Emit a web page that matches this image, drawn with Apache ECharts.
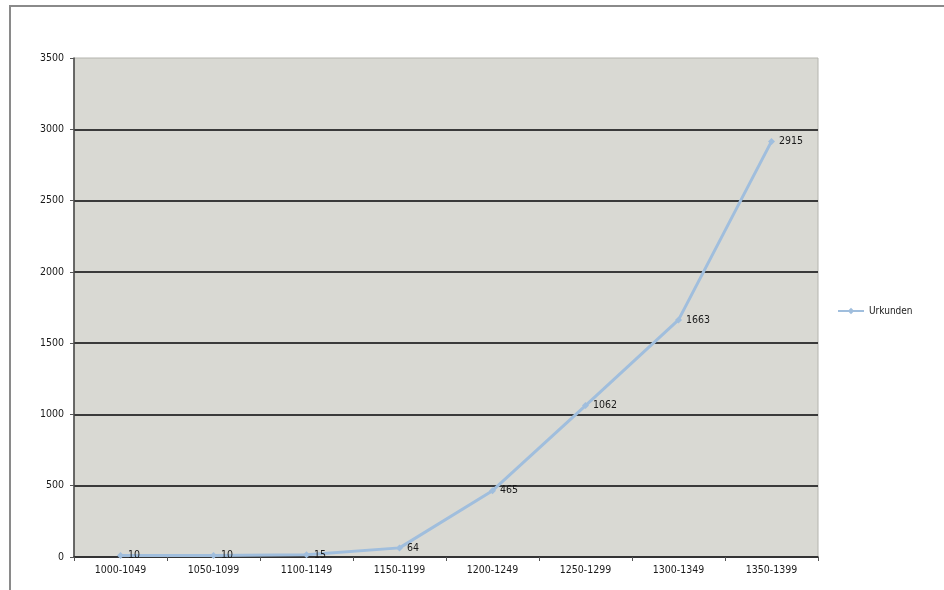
<!DOCTYPE html>
<html>
<head>
<meta charset="utf-8">
<title>Urkunden</title>
<script src="https://cdn.jsdelivr.net/npm/echarts@6/dist/echarts.min.js"></script>
<style>
  html, body { margin: 0; padding: 0; background: #ffffff; }
  #chart { width: 944px; height: 590px; }
</style>
</head>
<body>
<div id="chart"></div>
<script>
// Half-century periods and the number of charters (Urkunden) per period
const periods = ['1000-1049', '1050-1099', '1100-1149', '1150-1199', '1200-1249', '1250-1299', '1300-1349', '1350-1399'];
const urkunden = [10, 10, 15, 64, 465, 1062, 1663, 2915];
const seriesName = 'Urkunden';
const yMin = 0;
const yMax = 3500;
const yStep = 500;

const labelFont = '"DejaVu Sans Condensed", "DejaVu Sans", Verdana, sans-serif';

const chart = echarts.init(document.getElementById('chart'), null, { renderer: 'canvas' });

chart.setOption({
  backgroundColor: '#ffffff',
  animation: false,
  graphic: [
    {
      type: 'rect',
      shape: { x: 10, y: 6, width: 960, height: 600 },
      style: { fill: 'none', stroke: '#8a8a8a', lineWidth: 2 },
      silent: true,
      z: 100
    }
  ],
  legend: {
    left: 832,
    top: 301,
    itemWidth: 26,
    itemHeight: 8,
    itemGap: 4,
    textStyle: { fontFamily: labelFont, fontSize: 10, color: '#1a1a1a' },
    data: [seriesName]
  },
  grid: {
    left: 74,
    right: 126,
    top: 58,
    bottom: 33,
    show: true,
    backgroundColor: '#d9d9d3',
    borderColor: '#b4b4ae',
    borderWidth: 1
  },
  xAxis: {
    type: 'category',
    data: periods,
    boundaryGap: true,
    axisLine: { show: true, lineStyle: { color: '#333333', width: 1.5 } },
    axisTick: { show: true, alignWithLabel: false, length: 4, lineStyle: { color: '#555555' } },
    axisLabel: { fontFamily: labelFont, fontSize: 10.5, color: '#1a1a1a', margin: 8 },
    splitLine: { show: false }
  },
  yAxis: {
    type: 'value',
    min: yMin,
    max: yMax,
    interval: yStep,
    axisLine: { show: true, lineStyle: { color: '#444444', width: 1.5 } },
    axisTick: { show: true, length: 4, lineStyle: { color: '#555555' } },
    axisLabel: {
      fontFamily: labelFont,
      fontSize: 10.5,
      color: '#1a1a1a',
      margin: 10,
      formatter: (v) => String(v)
    },
    splitLine: { show: true, showMaxLine: false, lineStyle: { color: '#3a3a3a', width: 2 } }
  },
  series: [
    {
      name: seriesName,
      type: 'line',
      data: urkunden,
      smooth: false,
      symbol: 'diamond',
      symbolSize: 7,
      lineStyle: { color: '#a0bedd', width: 3 },
      itemStyle: { color: '#a0bedd' },
      label: {
        show: true,
        position: 'right',
        distance: 4,
        fontFamily: labelFont,
        fontSize: 10.5,
        color: '#1a1a1a'
      },
      z: 5
    }
  ]
});
</script>
</body>
</html>
